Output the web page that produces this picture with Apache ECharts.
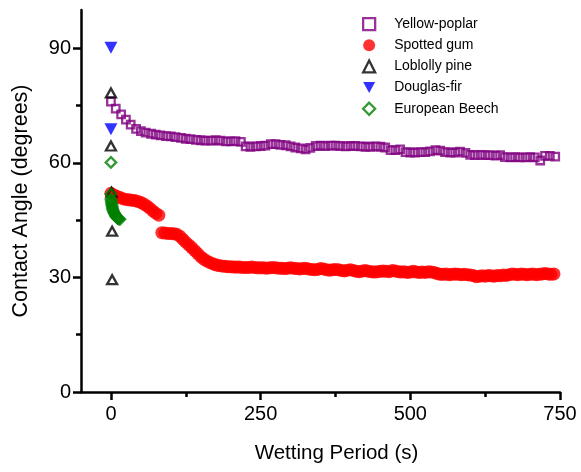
<!DOCTYPE html>
<html><head><meta charset="utf-8">
<script src="https://cdn.jsdelivr.net/npm/echarts@6/dist/echarts.min.js"></script>
<style>html,body{margin:0;padding:0;background:#fff}#c{width:581px;height:472px}</style>
</head><body><div id="c"></div>
<script>
const seriesNames = ['Yellow-poplar','Spotted gum','Loblolly pine','Douglas-fir','European Beech'];
const xTickLabels = [0,250,500,750];
const xMinorTicks = [125,375,625];
const yTickLabels = [0,30,60,90];
const yMinorTicks = [15,45,75];

const poplarTime = [0,8,17,25,33,42,50,58,67,75,83,92,100,108,117,125,133,142,150,158,167,175,183,192,200,208,217,225,233,242,250,258,267,275,283,292,300,308,317,325,333,342,350,358,367,375,383,392,400,408,417,425,433,442,450,458,467,475,483,492,500,508,517,525,533,542,550,558,567,575,583,592,600,608,617,625,633,642,650,658,667,675,683,692,700,708,717,725,733,742];
const poplarAngle = [76.0,74.2,72.7,71.3,70.0,68.9,68.3,67.9,67.6,67.4,67.2,67.0,66.9,66.7,66.5,66.3,66.2,66.0,65.9,65.8,65.8,65.9,65.8,65.6,65.6,65.7,65.5,64.3,64.2,64.3,64.4,64.5,64.9,64.9,64.7,64.6,64.3,64.0,63.8,63.5,63.9,64.4,64.5,64.4,64.5,64.5,64.4,64.3,64.4,64.4,64.3,64.2,64.2,64.3,64.2,64.0,63.3,63.3,63.5,62.8,62.7,62.7,62.8,62.8,63.0,63.3,63.2,62.8,62.7,62.7,62.9,62.6,62.1,62.0,62.1,62.0,62.0,61.9,62.0,61.5,61.4,61.5,61.4,61.4,61.5,61.4,60.6,61.8,61.8,61.6];

const gumTime = [0,5,10,15,20,25,30,35,40,45,50,55,60,65,70,75,80,85,90,95,100,105,110,115,120,125,130,135,140,145,150,155,160,165,170,175,180,185,190,195,200,205,210,215,220,225,230,235,240,245,250,255,260,265,270,275,280,285,290,295,300,305,310,315,320,325,330,335,340,345,350,355,360,365,370,375,380,385,390,395,400,405,410,415,420,425,430,435,440,445,450,455,460,465,470,475,480,485,490,495,500,505,510,515,520,525,530,535,540,545,550,555,560,565,570,575,580,585,590,595,600,605,610,615,620,625,630,635,640,645,650,655,660,665,670,675,680,685,690,695,700,705,710,715,720,725,730,735,740];
const gumAngle = [52.0,51.6,51.2,50.9,50.6,50.4,50.3,50.2,50.1,49.9,49.6,49.2,48.7,48.1,47.4,46.8,46.3,41.7,41.6,41.5,41.5,41.4,41.3,40.8,40.0,39.2,38.5,37.8,37.0,36.2,35.4,34.8,34.3,33.9,33.6,33.3,33.1,33.0,32.9,32.8,32.8,32.7,32.7,32.7,32.6,32.6,32.6,32.7,32.6,32.5,32.5,32.5,32.4,32.5,32.6,32.5,32.4,32.4,32.3,32.4,32.5,32.4,32.3,32.2,32.3,32.4,32.2,32.1,32.0,32.1,32.3,32.2,32.0,31.9,32.0,32.1,32.0,31.8,31.7,31.9,32.0,31.8,31.6,31.5,31.7,31.8,31.6,31.5,31.4,31.5,31.6,31.7,31.6,31.5,31.8,31.7,31.5,31.4,31.5,31.3,31.4,31.6,31.4,31.3,31.4,31.3,31.5,31.4,31.3,31.0,30.8,30.8,30.9,30.7,30.8,30.9,30.8,30.7,30.8,30.7,30.6,30.5,30.2,30.3,30.4,30.3,30.5,30.4,30.3,30.5,30.4,30.6,30.5,30.7,30.9,30.8,30.7,30.9,30.8,30.7,30.8,30.9,30.7,30.8,30.9,31.0,30.9,30.8,30.9];

const pineTime = [0,0,1,2,2];
const pineAngle = [78.3,64.4,52.3,42.1,29.4];

const firTime = [0,0];
const firAngle = [90.1,68.8];

const beechTime = [0,0,0,0.5,1,1.5,2,2.5,3,4,5,6,7,8,9,10,11,12,13,15];
const beechAngle = [60.1,51.8,50.5,50.0,49.5,49.0,48.6,48.2,47.8,47.4,47.0,46.7,46.4,46.1,45.9,45.7,45.5,45.4,45.3,45.2];

const zip = (a,b) => a.map((v,i)=>[v,b[i]]);
const FONT = 'Liberation Sans, Arial, sans-serif';
const CLEAR = 'rgba(255,255,255,0)';

const chart = echarts.init(document.getElementById('c'), null, {renderer:'canvas'});
const axisLine = {show:true, onZero:false, lineStyle:{color:'#000', width:2.5}};
const openItem = {borderWidth:2.3};
chart.setOption({
  animation:false,
  backgroundColor:'#fff',
  grid:{left:81, right:21, top:10, bottom:80},
  legend:{
    orient:'vertical', left:357, top:12, itemWidth:12, itemHeight:12, itemGap:7,
    textStyle:{fontFamily:FONT, fontSize:14, color:'#000', padding:[0,0,0,14]},
    data:[
      {name:seriesNames[0], icon:'rect', itemStyle:openItem},
      {name:seriesNames[1]},
      {name:seriesNames[2], itemStyle:openItem},
      {name:seriesNames[3], icon:'path://M0,0L12,0L6,11Z'},
      {name:seriesNames[4], itemStyle:openItem}
    ]
  },
  xAxis:[{
    type:'value', min:-50, max:750,
    axisLine:axisLine, splitLine:{show:false},
    axisTick:{show:true, customValues:xTickLabels, length:8, lineStyle:{color:'#000', width:2.5}},
    axisLabel:{customValues:xTickLabels, fontFamily:FONT, fontSize:20, color:'#000', margin:12},
    name:'Wetting Period (s)', nameLocation:'middle', nameGap:51,
    nameTextStyle:{fontFamily:FONT, fontSize:20.5, color:'#000', padding:[0,0,0,32]}
  },{
    type:'value', min:-50, max:750, position:'bottom', offset:0,
    axisLine:{show:false, onZero:false}, splitLine:{show:false}, axisLabel:{show:false},
    axisTick:{show:true, customValues:xMinorTicks, length:5, lineStyle:{color:'#000', width:2.5}}
  }],
  yAxis:[{
    type:'value', min:0, max:100,
    axisLine:axisLine, splitLine:{show:false},
    axisTick:{show:true, customValues:yTickLabels, length:8, lineStyle:{color:'#000', width:2.5}},
    axisLabel:{customValues:yTickLabels, fontFamily:FONT, fontSize:20, color:'#000', margin:10},
    name:'Contact Angle (degrees)', nameLocation:'middle', nameGap:49,
    nameTextStyle:{fontFamily:FONT, fontSize:21.5, color:'#000'}
  },{
    type:'value', min:0, max:100, position:'left', offset:0,
    axisLine:{show:false, onZero:false}, splitLine:{show:false}, axisLabel:{show:false},
    axisTick:{show:true, customValues:yMinorTicks, length:5, lineStyle:{color:'#000', width:2.5}}
  }],
  series:[
    {name:seriesNames[0], type:'scatter', symbol:'rect', symbolSize:7.5,
     itemStyle:{color:CLEAR, borderColor:'#800080', borderWidth:2.3}, data:zip(poplarTime,poplarAngle)},
    {name:seriesNames[1], type:'scatter', symbol:'circle', symbolSize:13,
     itemStyle:{color:'#ff0000'}, data:zip(gumTime,gumAngle)},
    {name:seriesNames[2], type:'scatter', symbol:'triangle', symbolSize:[10,9],
     itemStyle:{color:CLEAR, borderColor:'#000000', borderWidth:2.3}, data:zip(pineTime,pineAngle)},
    {name:seriesNames[3], type:'scatter', symbol:'triangle', symbolRotate:180, symbolSize:[13,12],
     itemStyle:{color:'#0000ff'}, data:zip(firTime,firAngle)},
    {name:seriesNames[4], type:'scatter', symbol:'diamond', symbolSize:10.5,
     itemStyle:{color:CLEAR, borderColor:'#008000', borderWidth:2.3}, data:zip(beechTime,beechAngle)}
  ]
});
</script></body></html>
